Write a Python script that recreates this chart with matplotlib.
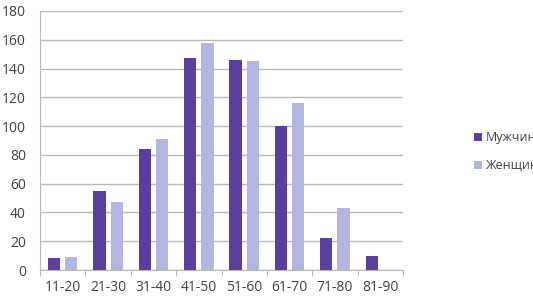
import matplotlib
matplotlib.use("Agg")
import matplotlib.pyplot as plt
import numpy as np

categories = ["11-20", "21-30", "31-40", "41-50", "51-60", "61-70", "71-80", "81-90"]
men = [8, 55, 84, 147, 146, 100, 22, 10]
women = [9, 47, 91, 158, 145, 116, 43, 0]
series_names = ["Мужчины", "Женщины"]
yticks = [0, 20, 40, 60, 80, 100, 120, 140, 160, 180]

c_men = "#5B3EA0"
c_women = "#B0B8E2"
txt = "#404040"

plt.rcParams["font.family"] = ["Open Sans", "DejaVu Sans"]

fig = plt.figure(figsize=(5.33, 3.01), dpi=100)
ax = fig.add_axes([40/533, 1 - 270/301, (403-40)/533, (270-11)/301])

x = np.arange(len(categories))
w = 0.27
off = 0.19
ax.bar(x - off, men, width=w, color=c_men, label=series_names[0], zorder=3)
ax.bar(x + off, women, width=w, color=c_women, label=series_names[1], zorder=3)

ax.set_xlim(-0.5, len(categories) - 0.5)
ax.set_ylim(0, 180)
ax.set_yticks(yticks)
ax.set_yticklabels([str(v) for v in yticks], fontsize=10, color=txt)
ax.set_xticks(x)
ax.set_xticklabels(categories, fontsize=10, color=txt)
ax.set_xticks(np.arange(-0.5, len(categories), 1), minor=True)
ax.tick_params(axis="x", which="major", length=0, pad=7)
ax.tick_params(axis="x", which="minor", length=4, color="#aaaaaa", direction="out")
ax.tick_params(axis="y", length=0, pad=10)
ax.grid(axis="y", color="#b8b8b8", linewidth=1, zorder=0)
for s in ["top", "right"]:
    ax.spines[s].set_visible(False)
ax.spines["left"].set_color("#b8b8b8")
ax.spines["bottom"].set_color("#b8b8b8")

leg = fig.legend(loc="upper left", bbox_to_anchor=(463/533, 1 - 120/301), frameon=False,
                 fontsize=9, handlelength=0.65, handleheight=0.65, handletextpad=0.25,
                 labelspacing=1.2, labelcolor=txt)

fig.savefig("out.png", dpi=100)
